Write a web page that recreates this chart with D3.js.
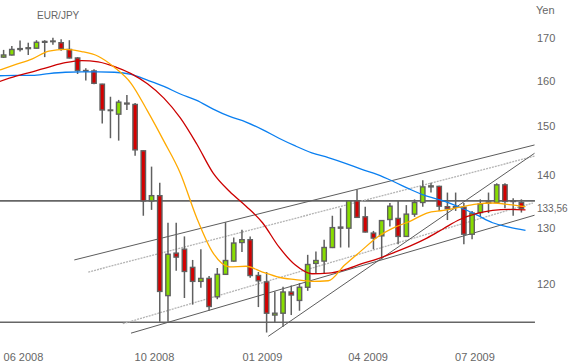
<!DOCTYPE html>
<html>
<head>
<meta charset="utf-8">
<script src="https://cdn.jsdelivr.net/npm/d3@7"></script>
<style>
body { margin: 0; background: #fff; }
svg { display: block; font-family: "Liberation Sans", Arial, sans-serif; }
</style>
</head>
<body>
<script>
// weekly candles, first week starts Mon 26 May 2008
const title = "EUR/JPY";
const unit = "Yen";
const firstWeek = Date.UTC(2008, 4, 26);

const opens  = [165.4,165.9,167.2,167.4,167.5,168.9,169.1,168.8,167.2,165.2,162.3,162.2,159.2,153.5,152.6,155.0,
                154.7,144.9,135.0,136.0,118.1,125.4,126.1,122.9,120.5,121.0,117.9,121.7,124.0,127.3,127.8,121.5,
                120.4,114.9,115.2,118.7,117.3,119.5,123.6,124.0,126.4,130.1,129.9,135.0,132.0,129.0,128.5,131.5,
                131.7,128.4,132.5,134.7,137.7,137.8,133.9,133.8,133.8,128.8,132.8,134.6,134.7,138.1,134.9,134.7];
const highs  = [167.1,168.0,169.3,168.8,169.4,169.4,170.0,169.6,169.4,165.4,162.8,162.6,159.3,156.4,155.7,156.8,
                155.0,145.0,141.7,138.5,130.9,130.9,128.4,124.2,126.1,121.4,122.8,131.0,128.2,129.6,128.4,122.1,
                122.1,118.8,119.6,119.8,120.2,125.1,125.7,127.8,132.2,133.6,135.1,137.2,133.9,129.4,131.4,134.6,
                135.0,134.2,135.3,139.0,138.5,137.9,136.6,136.6,134.6,133.1,135.3,136.6,138.4,138.4,135.5,135.3];
const lows   = [165.2,165.8,166.7,165.9,167.4,165.4,168.3,166.9,165.1,161.5,160.0,159.2,150.6,147.5,147.0,153.5,
                143.9,132.2,133.3,113.8,113.8,122.3,117.7,116.6,119.4,115.6,117.5,121.6,123.9,125.6,121.1,116.2,
                112.1,113.7,113.0,114.9,115.6,118.9,121.9,121.9,126.3,126.4,126.4,131.8,129.1,126.1,124.3,130.2,
                127.0,128.3,132.0,133.9,136.6,133.1,131.4,133.1,127.0,127.9,132.0,132.7,134.6,133.6,132.2,132.8];
const closes = [165.9,167.2,167.4,167.6,168.9,169.1,169.2,167.4,165.2,162.3,162.2,159.4,153.5,153.4,155.2,154.8,
                145.1,135.0,136.0,118.8,125.2,124.7,122.2,120.5,121.0,116.3,121.7,124.1,127.2,127.8,121.5,120.6,
                115.2,115.2,118.7,118.2,119.5,123.4,124.1,126.4,130.0,129.9,135.0,131.9,129.2,128.1,131.3,134.0,
                128.4,132.5,134.7,137.7,137.9,134.0,133.5,133.9,128.8,132.7,134.4,134.8,138.1,134.9,135.0,133.56];

// moving averages, read every two weeks
const orangeMA = [162.4,163.7,165.0,166.8,167.2,166.7,165.6,163.0,159.4,153.3,146.9,140.4,131.8,125.4,123.0,123.1,
                  122.1,121.2,120.8,120.5,120.6,123.3,125.8,128.3,130.0,131.2,132.7,133.2,133.8,134.4,134.6,134.3,133.9];
const redMA    = [159.8,161.0,162.0,163.1,164.1,164.6,164.3,163.2,161.6,159.3,156.1,151.8,146.3,140.4,136.8,134.0,
                  130.9,126.5,123.3,121.8,121.9,122.5,123.5,124.4,125.5,126.7,128.1,129.8,131.5,132.6,133.2,133.4,133.3];
const blueMA   = [161.1,161.2,161.2,161.6,161.9,162.0,162.0,161.9,161.4,160.1,158.7,157.0,155.6,153.7,152.1,150.9,
                  149.3,147.5,145.9,144.5,143.5,142.4,141.2,140.1,138.7,137.2,135.9,135.0,133.8,132.4,130.9,130.1,129.5];

const priceTicks = [120, 130, 140, 150, 160, 170];
const monthTicks = [Date.UTC(2008,5,1), Date.UTC(2008,9,1), Date.UTC(2009,0,1), Date.UTC(2009,3,1), Date.UTC(2009,6,1)];
const lastPrice = 133.56;

// horizontal levels and trend lines: [week index, price]
const levels = [135.0, 113.73];
const trendFrom = [[8.6,124.2],[10.3,122.1],[14.5,113.5],[15.5,112.0],[32.2,111.5]];
const trendTo   = [[64.6,146.1],[64.6,143.8],[64.4,134.6],[64.6,132.3],[64.6,144.4]];
const dottedTrends = [1, 2];

const W = 572, H = 363;
const week = 7 * 864e5;
const grey = "#606060";

const svg = d3.select("body").append("svg").attr("width", W).attr("height", H);

const x = d3.scaleLinear().domain([-0.5, 63.5]).range([-0.5, 525.5]);
const xTime = d3.scaleUtc().domain([firstWeek - 0.5 * week, firstWeek + 63.5 * week]).range(x.range());
const y = d3.scaleLog().domain([120, 170]).range([284.3, 37.7]);

// levels
svg.selectAll("line.level").data(levels).enter().append("line")
  .attr("class", "level")
  .attr("x1", x(-0.5)).attr("x2", x(64.65))
  .attr("y1", d => y(d)).attr("y2", d => y(d))
  .attr("stroke", "#666").attr("stroke-width", 1.6);

// trend lines
svg.selectAll("line.trend").data(trendFrom).enter().append("line")
  .attr("class", "trend")
  .attr("x1", d => x(d[0])).attr("y1", d => y(d[1]))
  .attr("x2", (d, i) => x(trendTo[i][0])).attr("y2", (d, i) => y(trendTo[i][1]))
  .attr("stroke", (d, i) => dottedTrends.includes(i) ? "#b4b4b4" : "#5c5c5c")
  .attr("stroke-width", (d, i) => dottedTrends.includes(i) ? 1.3 : 1)
  .attr("stroke-dasharray", (d, i) => dottedTrends.includes(i) ? "2,1" : null);

// candles
const idx = d3.range(opens.length);
const candle = svg.append("g").selectAll("g").data(idx).enter().append("g");
candle.append("line")
  .attr("x1", i => x(i)).attr("x2", i => x(i))
  .attr("y1", i => y(highs[i])).attr("y2", i => y(lows[i]))
  .attr("stroke", grey).attr("stroke-width", 1.5);
candle.append("rect")
  .attr("x", i => x(i) - 2.2).attr("width", 4.4)
  .attr("y", i => y(Math.max(opens[i], closes[i])))
  .attr("height", i => Math.max(Math.abs(y(opens[i]) - y(closes[i])), 0.6))
  .attr("fill", i => closes[i] > opens[i] ? "#88dd00" : "#d40000")
  .attr("stroke", grey).attr("stroke-width", 1.4);

// moving averages
const maLine = d3.line()
  .x((d, k) => x(2 * k - 0.5))
  .y(d => y(d))
  .curve(d3.curveMonotoneX);
[[blueMA, "#0a7ff0"], [redMA, "#cc0000"], [orangeMA, "#ffaa00"]].forEach(([s, c]) => {
  svg.append("path").attr("d", maLine(s))
    .attr("fill", "none").attr("stroke", c).attr("stroke-width", 1.3);
});

// right price axis
const yAxis = svg.append("g")
  .attr("transform", "translate(537,0)")
  .call(d3.axisRight(y).tickValues(priceTicks).tickFormat(d3.format("d")).tickSize(0).tickPadding(0));
yAxis.select(".domain").remove();
yAxis.selectAll("text").attr("fill", "#666").attr("font-size", 11).attr("font-family", "Liberation Sans, Arial, sans-serif");

svg.append("text")
  .attr("x", 537).attr("y", y(lastPrice)).attr("dy", "0.35em")
  .attr("fill", "#666").attr("font-size", 10)
  .text(d3.format(".2f")(lastPrice).replace(".", ","));

svg.append("text").attr("x", 536).attr("y", 14)
  .attr("fill", "#666").attr("font-size", 11).text(unit);

// bottom date axis
const xAxis = svg.append("g")
  .attr("transform", "translate(0,350)")
  .call(d3.axisBottom(xTime).tickValues(monthTicks).tickFormat(d3.utcFormat("%m %Y")).tickSize(0).tickPadding(3));
xAxis.select(".domain").remove();
xAxis.selectAll("text").attr("fill", "#666").attr("font-size", 11).attr("font-family", "Liberation Sans, Arial, sans-serif")
  .each(function (d) {
    const w = this.getComputedTextLength();
    const left = xTime(d) - w / 2;
    if (left < 3) d3.select(this).attr("dx", 3 - left);
  });

svg.append("text").attr("x", 37).attr("y", 19)
  .attr("fill", "#666").attr("font-size", 10).text(title);
</script>
</body>
</html>
